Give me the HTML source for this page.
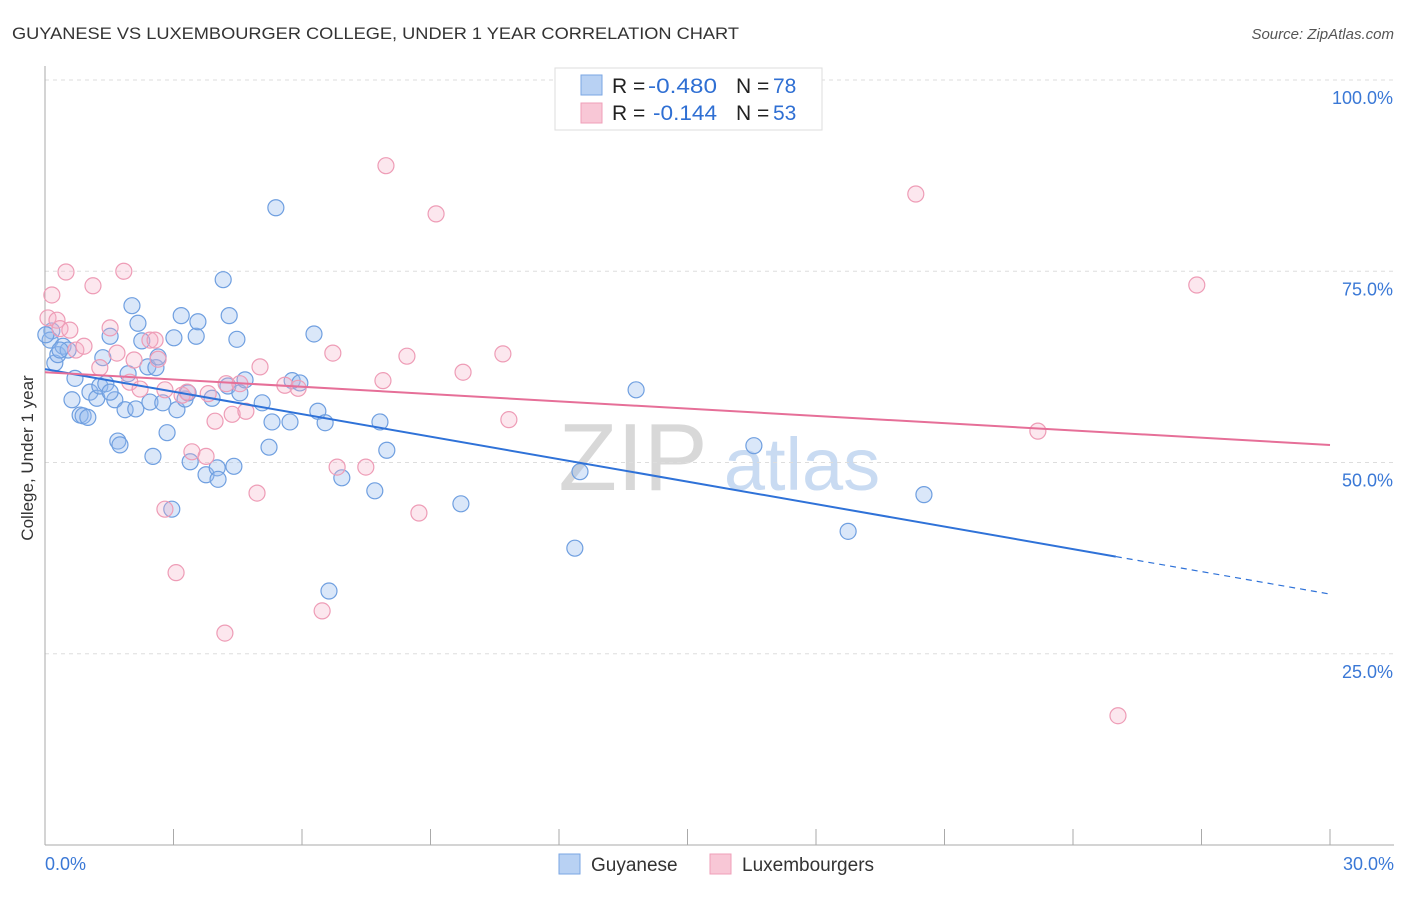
<!DOCTYPE html>
<html><head><meta charset="utf-8">
<style>
body{margin:0;background:#fff;font-family:"Liberation Sans",sans-serif;}
svg text{font-family:"Liberation Sans",sans-serif;}
</style></head>
<body>
<svg id="chart" width="1406" height="892" xmlns="http://www.w3.org/2000/svg">
<text x="12" y="39" font-size="17" fill="#333" textLength="727" lengthAdjust="spacingAndGlyphs">GUYANESE VS LUXEMBOURGER COLLEGE, UNDER 1 YEAR CORRELATION CHART</text>
<text x="1394" y="39" font-size="15" fill="#555" text-anchor="end" font-style="italic">Source: ZipAtlas.com</text>
<text transform="translate(33,458) rotate(-90)" font-size="17" fill="#333" text-anchor="middle">College, Under 1 year</text>
<g>
<text x="633" y="490" font-size="96" fill="#d8d8d8" text-anchor="middle" font-family="Liberation Serif, serif">ZIP</text>
<text x="802" y="490" font-size="74" fill="#c9dbf2" text-anchor="middle">atlas</text>
</g>
<g id="grid"></g>
<g id="axes"></g>
<g id="pts"></g>
<g id="trends"></g>
<g>
<rect x="555" y="68" width="267" height="62" fill="#fff" stroke="#ddd"/>
<rect x="581" y="75" width="21" height="20" fill="#b8d1f3" stroke="#7aa6e3"/>
<rect x="581" y="103" width="21" height="20" fill="#f8c7d6" stroke="#ef9fb8"/>
<text font-size="21" fill="#222"><tspan x="612" y="93">R =</tspan><tspan x="648" y="93" fill="#2f6fd3" textLength="69" lengthAdjust="spacingAndGlyphs">-0.480</tspan><tspan x="736" y="93">N =</tspan><tspan x="773" y="93" fill="#2f6fd3">78</tspan></text>
<text font-size="21" fill="#222"><tspan x="612" y="120">R =</tspan><tspan x="653" y="120" fill="#2f6fd3" textLength="64" lengthAdjust="spacingAndGlyphs">-0.144</tspan><tspan x="736" y="120">N =</tspan><tspan x="773" y="120" fill="#2f6fd3">53</tspan></text>
</g>
<g>
<rect x="559" y="854" width="21" height="20" fill="#b8d1f3" stroke="#7aa6e3"/>
<text x="591" y="871" font-size="19" fill="#333">Guyanese</text>
<rect x="710" y="854" width="21" height="20" fill="#f8c7d6" stroke="#ef9fb8"/>
<text x="742" y="871" font-size="19" fill="#333">Luxembourgers</text>
</g>
</svg>
<script>
const xTicks=[0,3,6,9,12,15,18,21,24,27,30];
const yTicks=[25,50,75,100];
const yTickLabels=["25.0%","50.0%","75.0%","100.0%"];
const guyX=[0.16,0.12,0.23,0.30,0.42,0.54,0.63,0.70,0.82,0.89,1.00,1.05,1.21,1.28,1.35,1.42,1.52,1.63,1.70,1.75,1.87,1.94,2.03,2.12,2.17,2.26,2.40,2.45,2.52,2.59,2.64,2.75,2.85,2.96,3.01,3.08,3.18,3.27,3.34,3.39,3.53,3.57,3.76,3.90,4.02,4.04,4.16,4.27,4.30,4.41,4.48,4.55,4.67,5.07,5.23,5.30,5.39,5.72,5.77,5.95,6.28,6.37,6.54,6.63,6.93,7.70,7.82,7.98,9.71,12.37,12.49,13.80,16.55,18.75,20.52,0.02,0.35,1.52];
const guyY=[67.2,66.0,63.0,64.1,65.2,64.7,58.2,61.0,56.2,56.1,55.9,59.2,58.4,60.0,63.7,60.3,66.5,58.2,52.8,52.3,56.9,61.6,70.5,57.0,68.2,65.9,62.5,57.9,50.8,62.4,63.8,57.8,53.9,43.9,66.3,56.9,69.2,58.3,59.1,50.1,66.5,68.4,48.4,58.4,49.3,47.8,73.9,60.0,69.2,49.5,66.1,59.1,60.8,57.8,52.0,55.3,83.3,55.3,60.7,60.4,66.8,56.7,55.2,33.2,48.0,46.3,55.3,51.6,44.6,38.8,48.8,59.5,52.2,41.0,45.8,66.7,64.7,59.2];
const luxX=[0.16,0.07,0.28,0.35,0.49,0.58,0.72,0.91,1.12,1.28,1.52,1.68,1.84,1.98,2.08,2.22,2.45,2.64,2.80,3.06,3.20,3.32,3.43,3.76,3.81,3.97,4.20,4.23,4.37,4.69,4.95,5.02,5.60,5.91,6.47,6.72,6.82,7.49,7.89,7.96,8.45,8.73,9.13,9.76,10.69,10.83,20.33,23.18,25.05,26.89,2.57,4.55,2.80];
const luxY=[71.9,68.9,68.6,67.5,74.9,67.3,64.7,65.2,73.1,62.4,67.6,64.3,75.0,60.5,63.4,59.6,66.0,63.5,43.9,35.6,58.8,59.2,51.4,50.8,59.0,55.4,27.7,60.3,56.3,56.7,46.0,62.5,60.1,59.7,30.6,64.3,49.4,49.4,60.7,88.8,63.9,43.4,82.5,61.8,64.2,55.6,85.1,54.1,16.9,73.2,66.0,60.3,59.5];
const guyTrend=[62.2,-0.98]; // intercept, slope
const luxTrend=[61.8,-0.317];
const guySolidEnd=25;

const NS="http://www.w3.org/2000/svg";
const X=v=>45+v/30*1285;
const Y=v=>845-v/100*765;
function mk(tag,attrs,parent){const e=document.createElementNS(NS,tag);for(const k in attrs)e.setAttribute(k,attrs[k]);parent.appendChild(e);return e;}
const grid=document.getElementById('grid'),axes=document.getElementById('axes'),pts=document.getElementById('pts'),tr=document.getElementById('trends');
yTicks.forEach((t,i)=>{
  const l=mk('line',{x1:45,x2:1394,y1:Y(t),y2:Y(t),stroke:'#ddd','stroke-dasharray':'4,4'},grid);
  
  
  const tx=mk('text',{x:1393,y:Y(t)+24,'font-size':18,fill:'#3a78d6','text-anchor':'end'},axes);
  tx.textContent=yTickLabels[i];
  
  
});
const ya=mk('line',{x1:45,x2:45,y1:66,y2:845,stroke:'#aaa'},axes);


const xa=mk('line',{x1:45,x2:1394,y1:845,y2:845,stroke:'#aaa'},axes);


xTicks.forEach(t=>{
  const l=mk('line',{x1:X(t),x2:X(t),y1:829,y2:845,stroke:'#aaa'},axes);
  
  
});
const xl0=mk('text',{x:45,y:870,'font-size':18,fill:'#3a78d6'},axes);xl0.textContent='0.0%';


const xl1=mk('text',{x:1394,y:870,'font-size':18,fill:'#3a78d6','text-anchor':'end'},axes);xl1.textContent='30.0%';


guyX.forEach((x,i)=>{
  const c=mk('circle',{cx:X(x),cy:Y(guyY[i]),r:8,fill:'rgba(150,185,238,0.35)',stroke:'#6f9fe0','stroke-width':1.2},pts);
  
  
});
luxX.forEach((x,i)=>{
  const c=mk('circle',{cx:X(x),cy:Y(luxY[i]),r:8,fill:'rgba(245,175,198,0.3)',stroke:'#ee9cb6','stroke-width':1.2},pts);
  
  
});
const gy=x=>guyTrend[0]+guyTrend[1]*x, ly=x=>luxTrend[0]+luxTrend[1]*x;
const t1=mk('line',{x1:X(0),y1:Y(gy(0)),x2:X(guySolidEnd),y2:Y(gy(guySolidEnd)),stroke:'#2f72d8','stroke-width':2},tr);


const t2=mk('line',{x1:X(guySolidEnd),y1:Y(gy(guySolidEnd)),x2:X(30),y2:Y(gy(30)),stroke:'#2f72d8','stroke-width':1.2,'stroke-dasharray':'6,5'},tr);


const t3=mk('line',{x1:X(0),y1:Y(ly(0)),x2:X(30),y2:Y(ly(30)),stroke:'#e66f98','stroke-width':2},tr);


</script>
</body></html>
